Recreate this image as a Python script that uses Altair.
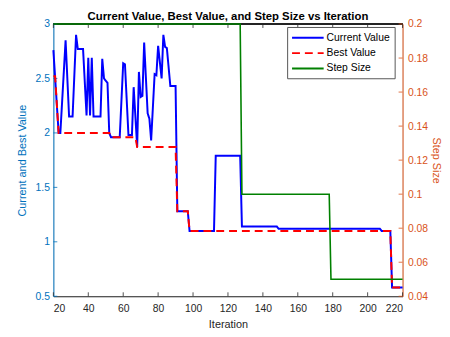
import altair as alt
import pandas as pd

# ---- data ----
iter_cur = [20, 23, 24, 27, 29, 31, 33, 34, 37, 39, 40, 41, 42, 43, 47, 48, 49, 51, 52, 53,
            58, 60, 61, 63, 65, 66, 68, 69, 70, 71, 72, 74, 75, 76, 78, 79, 80, 82, 83, 84,
            85, 87, 90, 91, 97, 98, 112, 113, 127, 128, 148, 149, 207, 208, 213, 214, 220]
val_cur = [2.76, 2.00, 2.00, 2.85, 2.15, 2.15, 2.90, 2.77, 2.77, 2.16, 2.69, 2.16, 2.69, 2.15,
           2.15, 2.68, 2.50, 2.46, 2.00, 1.96, 1.96, 2.64, 2.63, 1.98, 1.98, 2.42, 1.87, 2.56,
           2.33, 2.34, 2.83, 2.18, 2.13, 1.93, 2.54, 2.53, 2.80, 2.50, 2.90, 2.79, 2.78, 2.43,
           2.43, 1.28, 1.28, 1.10, 1.10, 1.79, 1.79, 1.14, 1.14, 1.12, 1.12, 1.10, 1.10, 0.58,
           0.58]

iter_best = [20, 21, 23, 52, 53, 67, 68, 90, 91, 97, 98, 213, 214, 220]
val_best = [2.52, 2.52, 2.00, 2.00, 1.96, 1.96, 1.87, 1.87, 1.28, 1.28, 1.10, 1.10, 0.58, 0.58]

iter_step = [20, 127, 128, 178, 179, 220]
val_step = [0.2, 0.2, 0.1, 0.1, 0.05, 0.05]

series_names = ["Current Value", "Best Value", "Step Size"]
series_colors = ["#0000FF", "#FF0000", "#008000"]
series_dash = [[1, 0], [8, 5], [1, 0]]

x_ticks = [20, 40, 60, 80, 100, 120, 140, 160, 180, 200, 220]
left_ticks = [0.5, 1, 1.5, 2, 2.5, 3]
right_ticks = [0.04, 0.06, 0.08, 0.1, 0.12, 0.14, 0.16, 0.18, 0.2]

W, H = 354, 276
FONT = "Liberation Sans"
DARK = "#262626"
LEFT_C = "#0072BD"
RIGHT_C = "#D95319"

df_cur = pd.DataFrame({"iter": iter_cur, "value": val_cur, "series": series_names[0]})
df_best = pd.DataFrame({"iter": iter_best, "value": val_best, "series": series_names[1]})
df_step = pd.DataFrame({"iter": iter_step, "value": val_step, "series": series_names[2]})
df_xt = pd.DataFrame({"iter": x_ticks})
df_lt = pd.DataFrame({"value": left_ticks})
df_rt = pd.DataFrame({"value": right_ticks})

x_enc = alt.X("iter:Q", scale=alt.Scale(domain=[20, 220], nice=False, zero=False),
              axis=alt.Axis(values=x_ticks, title="Iteration", grid=False, ticks=False,
                            domainColor=DARK, labelColor=DARK, titleColor=DARK,
                            labelFontSize=10.5, titleFontSize=11, titleFontWeight="normal",
                            labelPadding=7, titlePadding=5, labelFont=FONT, titleFont=FONT))

yl_enc = alt.Y("value:Q", scale=alt.Scale(domain=[0.5, 3], nice=False, zero=False),
               axis=alt.Axis(values=left_ticks, format=".1~f", title="Current and Best Value",
                             grid=False, ticks=False, domainColor=LEFT_C, labelColor=LEFT_C,
                             titleColor=LEFT_C, labelFontSize=10.5, titleFontSize=11,
                             titleFontWeight="normal", labelPadding=4, titlePadding=8,
                             labelFont=FONT, titleFont=FONT, orient="left"))

yr_enc = alt.Y("value:Q", scale=alt.Scale(domain=[0.04, 0.2], nice=False, zero=False),
               axis=alt.Axis(values=right_ticks, format=".2~f", title="Step Size",
                             grid=False, ticks=False, domainColor=RIGHT_C, labelColor=RIGHT_C,
                             titleColor=RIGHT_C, labelFontSize=10.5, titleFontSize=11,
                             titleFontWeight="normal", labelPadding=5, titlePadding=3,
                             labelFont=FONT, titleFont=FONT, orient="right"))

legend_props = dict(title=None, orient="none", legendX=237, legendY=3,
                    symbolType="M-2.67,0H2.67", symbolSize=144, symbolOffset=10,
                    symbolStrokeWidth=2, symbolFillColor="transparent",
                    labelFontSize=10.5, labelFont=FONT, labelColor="#000000",
                    labelOffset=12, fillColor="#FFFFFF", strokeColor="#555555",
                    padding=4, rowPadding=2.5)

color_enc = alt.Color("series:N", scale=alt.Scale(domain=series_names, range=series_colors),
                      legend=alt.Legend(**legend_props))
dash_enc = alt.StrokeDash("series:N", scale=alt.Scale(domain=series_names, range=series_dash),
                          legend=alt.Legend(**legend_props))

cur = alt.Chart(df_cur).mark_line(strokeWidth=2).encode(x=x_enc, y=yl_enc, color=color_enc,
                                                         strokeDash=dash_enc)
best = alt.Chart(df_best).mark_line(strokeWidth=2).encode(x=x_enc, y=yl_enc, color=color_enc,
                                                           strokeDash=dash_enc)
step = alt.Chart(df_step).mark_line(strokeWidth=1.6).encode(x=x_enc, y=yr_enc, color=color_enc,
                                                             strokeDash=dash_enc)

# inward tick marks (MATLAB style) and top box line
xt_bottom = alt.Chart(df_xt).mark_rule(color=DARK, strokeWidth=0.8).encode(
    x=x_enc, y=alt.value(H), y2=alt.value(H - 4))
xt_top = alt.Chart(df_xt).mark_rule(color=DARK, strokeWidth=0.8).encode(
    x=x_enc, y=alt.value(0), y2=alt.value(4))
top_line = alt.Chart(df_xt).mark_rule(color=DARK, strokeWidth=0.8).encode(
    x=alt.value(0), x2=alt.value(W), y=alt.value(0))
lt = alt.Chart(df_lt).mark_rule(color=LEFT_C, strokeWidth=0.8).encode(
    y=yl_enc, x=alt.value(0), x2=alt.value(4))
rt = alt.Chart(df_rt).mark_rule(color=RIGHT_C, strokeWidth=0.8).encode(
    y=yr_enc, x=alt.value(W - 4), x2=alt.value(W))

left = alt.layer(top_line, xt_bottom, xt_top, lt, cur, best)
right = alt.layer(rt, step)

chart = alt.layer(left, right).resolve_scale(y="independent").properties(
    width=W, height=H,
    padding={"left": 8, "top": 0, "right": 0, "bottom": 0},
    title=alt.TitleParams("Current Value, Best Value, and Step Size vs Iteration",
                          fontSize=11.5, fontWeight="bold", font=FONT, color="#000000",
                          offset=-3, anchor="middle"),
).configure_view(stroke=None).configure(background="#FFFFFF")

chart.save("out.html", embed_options={"renderer": "svg", "actions": False})
